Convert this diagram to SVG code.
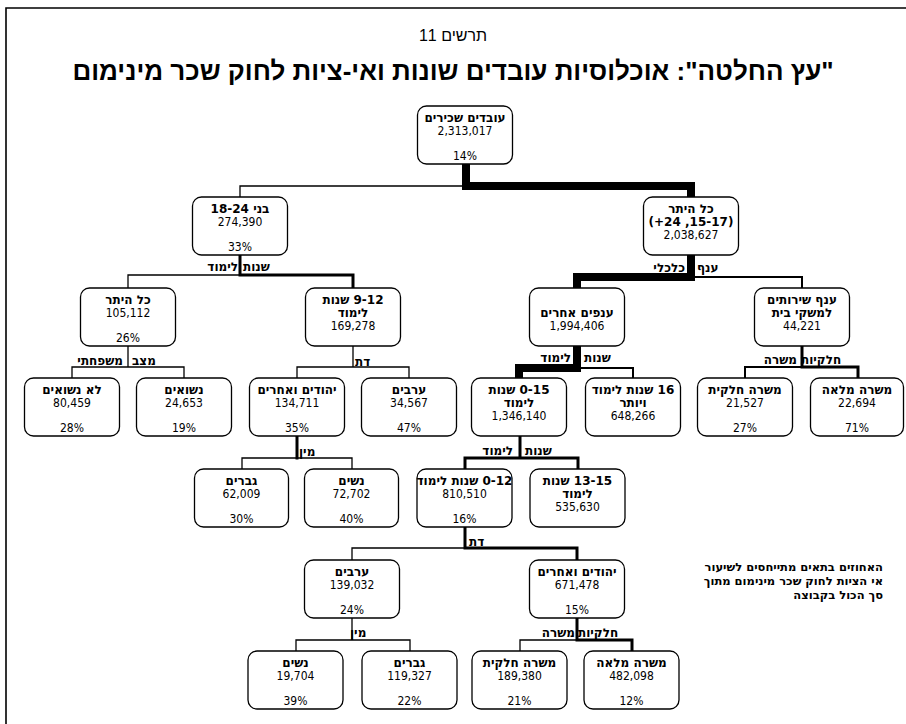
<svg xmlns="http://www.w3.org/2000/svg" width="906" height="724" viewBox="0 0 906 724">
<style>
.box{fill:#fff;stroke:#000;stroke-width:1.3}
text{font-family:"DejaVu Sans Condensed","DejaVu Sans",sans-serif;font-size:12px;fill:#000}
.t{font-family:"DejaVu Sans",sans-serif;font-weight:bold;direction:rtl}
.c{text-anchor:middle}
.lb{font-family:"DejaVu Sans",sans-serif;font-weight:bold;font-size:12px;direction:rtl}
.ln{fill:none;stroke:#000;stroke-linejoin:miter;stroke-linecap:square}
.w1{stroke-width:1.3}.w2{stroke-width:2}.w3{stroke-width:3}.w8{stroke-width:8}
.note{font-family:"DejaVu Sans",sans-serif;font-weight:bold;font-size:11.5px;direction:rtl}
</style>
<path d="M6,724 V8 H906" fill="none" stroke="#000" stroke-width="1.6"/>
<text x="453" y="41" class="c" style="font-family:'Liberation Sans',Arial,sans-serif;font-size:16px;direction:rtl">תרשים 11</text>
<text x="453" y="80" class="c" style="font-family:'Liberation Sans',Arial,sans-serif;font-size:26px;font-weight:bold;direction:rtl">"עץ החלטה": אוכלוסיות עובדים שונות ואי-ציות לחוק שכר מינימום</text>

<g id="connectors">
<path class="ln w1" d="M466,186 H240 V197"/>
<path class="ln w8" d="M466,164 V186 H691 V197" stroke-linecap="butt"/>
<path class="ln w1" d="M240,255 V275 H128 V288"/>
<path class="ln w3" d="M240,255 V275 H353 V288"/>
<path class="ln w2" d="M691,277 H802 V288"/>
<path class="ln w8" d="M691,255 V277 H577 V288" stroke-linecap="butt"/>
<path class="ln w1" d="M128,346 V367 H72 V378 M128,367 H184 V378"/>
<path class="ln w1" d="M353,346 V367 H297 V378 M353,367 H409 V378"/>
<path class="ln w2" d="M577,368 H633 V378"/>
<path class="ln w8" d="M577,346 V368 H519 V378" stroke-linecap="butt"/>
<path class="ln w2" d="M802,367 H745 V378"/>
<path class="ln w3" d="M802,346 V367 H858 V378"/>
<path class="ln w1" d="M297,458 H242 V469 M297,458 H352 V469"/>
<path class="ln w3" d="M297,436 V458"/>
<path class="ln w3" d="M520,436 V458 H465 V469 M520,458 H578 V469"/>
<path class="ln w1" d="M465,548 H352 V560"/>
<path class="ln w3" d="M465,528 V548 H577 V560"/>
<path class="ln w1" d="M352,618 V640 H296 V651 M352,640 H410 V651"/>
<path class="ln w1" d="M577,640 H520 V651"/>
<path class="ln w3" d="M577,618 V640 H632 V651"/>
<text x="238" y="271" class="lb" text-anchor="end" style="direction:ltr">לימוד</text>
<text x="243" y="271" class="lb" text-anchor="start" style="direction:ltr">שנות</text>
<text x="685" y="272" class="lb" text-anchor="end" style="direction:ltr">כלכלי</text>
<text x="697" y="272" class="lb" text-anchor="start" style="direction:ltr">ענף</text>
<text x="123" y="365" class="lb" text-anchor="end" style="direction:ltr">משפחתי</text>
<text x="132" y="365" class="lb" text-anchor="start" style="direction:ltr">מצב</text>
<text x="355" y="366" class="lb" text-anchor="start" style="direction:ltr">דת</text>
<text x="571" y="362" class="lb" text-anchor="end" style="direction:ltr">לימוד</text>
<text x="584" y="362" class="lb" text-anchor="start" style="direction:ltr">שנות</text>
<text x="797" y="364" class="lb" text-anchor="end" style="direction:ltr">משרה</text>
<text x="801" y="364" class="lb" text-anchor="start" style="direction:ltr">חלקיות</text>
<text x="299" y="456" class="lb" text-anchor="start" style="direction:ltr">מין</text>
<text x="513" y="455" class="lb" text-anchor="end" style="direction:ltr">לימוד</text>
<text x="525" y="455" class="lb" text-anchor="start" style="direction:ltr">שנות</text>
<text x="469" y="546" class="lb" text-anchor="start" style="direction:ltr">דת</text>
<text x="350" y="637" class="lb" text-anchor="start" style="direction:ltr">מין</text>
<text x="575" y="637" class="lb" text-anchor="end" style="direction:ltr">משרה</text>
<text x="578" y="637" class="lb" text-anchor="start" style="direction:ltr">חלקיות</text>
</g>

<g id="n_root"><rect class="box" x="417.5" y="106" width="95" height="58" rx="9"/>
<text x="465" y="122" class="t c">עובדים שכירים</text><text x="465" y="135" class="c">2,313,017</text><text x="465" y="160" class="c">14%</text></g>

<g id="n_18_24"><rect class="box" x="192.5" y="197" width="95" height="58" rx="9"/>
<text x="240" y="213" class="t c">בני 18-24</text><text x="240" y="226" class="c">274,390</text><text x="240" y="251" class="c">33%</text></g>

<g id="n_rest"><rect class="box" x="643.5" y="197" width="95" height="58" rx="9"/>
<text x="691" y="213" class="t c">כל היתר</text><text x="691" y="226" class="t c">(15-17, 24+)</text><text x="691" y="239" class="c">2,038,627</text></g>

<g id="n_other"><rect class="box" x="80.5" y="288" width="95" height="58" rx="9"/>
<text x="128" y="304" class="t c">כל היתר</text><text x="128" y="317" class="c">105,112</text><text x="128" y="342" class="c">26%</text></g>

<g id="n_9_12"><rect class="box" x="305.5" y="288" width="95" height="58" rx="9"/>
<text x="353" y="304" class="t c">9-12 שנות</text><text x="353" y="317" class="t c">לימוד</text><text x="353" y="330" class="c">169,278</text></g>

<g id="n_branches"><rect class="box" x="529.5" y="288" width="95" height="58" rx="9"/>
<text x="577" y="317" class="t c">ענפים אחרים</text><text x="577" y="330" class="c">1,994,406</text></g>

<g id="n_household"><rect class="box" x="754.5" y="288" width="95" height="58" rx="9"/>
<text x="802" y="304" class="t c">ענף שירותים</text><text x="802" y="317" class="t c">למשקי בית</text><text x="802" y="330" class="c">44,221</text></g>

<g id="n_unmarried"><rect class="box" x="24.5" y="378" width="95" height="58" rx="9"/>
<text x="72" y="394" class="t c">לא נשואים</text><text x="72" y="407" class="c">80,459</text><text x="72" y="432" class="c">28%</text></g>

<g id="n_married"><rect class="box" x="136.5" y="378" width="95" height="58" rx="9"/>
<text x="184" y="394" class="t c">נשואים</text><text x="184" y="407" class="c">24,653</text><text x="184" y="432" class="c">19%</text></g>

<g id="n_jews1"><rect class="box" x="249.5" y="378" width="95" height="58" rx="9"/>
<text x="297" y="394" class="t c">יהודים ואחרים</text><text x="297" y="407" class="c">134,711</text><text x="297" y="432" class="c">35%</text></g>

<g id="n_arabs1"><rect class="box" x="361.5" y="378" width="95" height="58" rx="9"/>
<text x="409" y="394" class="t c">ערבים</text><text x="409" y="407" class="c">34,567</text><text x="409" y="432" class="c">47%</text></g>

<g id="n_0_15"><rect class="box" x="471.5" y="378" width="95" height="58" rx="9"/>
<text x="519" y="394" class="t c">0-15 שנות</text><text x="519" y="407" class="t c">לימוד</text><text x="519" y="420" class="c">1,346,140</text></g>

<g id="n_16plus"><rect class="box" x="585.5" y="378" width="95" height="58" rx="9"/>
<text x="633" y="394" class="t c">16 שנות לימוד</text><text x="633" y="407" class="t c">ויותר</text><text x="633" y="420" class="c">648,266</text></g>

<g id="n_part1"><rect class="box" x="697.5" y="378" width="95" height="58" rx="9"/>
<text x="745" y="394" class="t c">משרה חלקית</text><text x="745" y="407" class="c">21,527</text><text x="745" y="432" class="c">27%</text></g>

<g id="n_full1"><rect class="box" x="810.5" y="378" width="93" height="58" rx="9"/>
<text x="857" y="394" class="t c">משרה מלאה</text><text x="857" y="407" class="c">22,694</text><text x="857" y="432" class="c">71%</text></g>

<g id="n_men1"><rect class="box" x="194.5" y="469" width="94" height="58" rx="9"/>
<text x="241.5" y="485" class="t c">גברים</text><text x="241.5" y="498" class="c">62,009</text><text x="241.5" y="523" class="c">30%</text></g>

<g id="n_women1"><rect class="box" x="304.5" y="469" width="94" height="58" rx="9"/>
<text x="351.5" y="485" class="t c">נשים</text><text x="351.5" y="498" class="c">72,702</text><text x="351.5" y="523" class="c">40%</text></g>

<g id="n_0_12"><rect class="box" x="417" y="469" width="95" height="58" rx="9"/>
<text x="464.5" y="485" class="t c">0-12 שנות לימוד</text><text x="464.5" y="498" class="c">810,510</text><text x="464.5" y="523" class="c">16%</text></g>

<g id="n_13_15"><rect class="box" x="530" y="469" width="95" height="58" rx="9"/>
<text x="577.5" y="485" class="t c">13-15 שנות</text><text x="577.5" y="498" class="t c">לימוד</text><text x="577.5" y="511" class="c">535,630</text></g>

<g id="n_arabs2"><rect class="box" x="304.5" y="560" width="95" height="58" rx="9"/>
<text x="352" y="576" class="t c">ערבים</text><text x="352" y="589" class="c">139,032</text><text x="352" y="614" class="c">24%</text></g>

<g id="n_jews2"><rect class="box" x="529.5" y="560" width="95" height="58" rx="9"/>
<text x="577" y="576" class="t c">יהודים ואחרים</text><text x="577" y="589" class="c">671,478</text><text x="577" y="614" class="c">15%</text></g>

<g id="n_women2"><rect class="box" x="248" y="651" width="95" height="58" rx="9"/>
<text x="295.5" y="667" class="t c">נשים</text><text x="295.5" y="680" class="c">19,704</text><text x="295.5" y="705" class="c">39%</text></g>

<g id="n_men2"><rect class="box" x="362" y="651" width="95" height="58" rx="9"/>
<text x="409.5" y="667" class="t c">גברים</text><text x="409.5" y="680" class="c">119,327</text><text x="409.5" y="705" class="c">22%</text></g>

<g id="n_part2"><rect class="box" x="472" y="651" width="95" height="58" rx="9"/>
<text x="519.5" y="667" class="t c">משרה חלקית</text><text x="519.5" y="680" class="c">189,380</text><text x="519.5" y="705" class="c">21%</text></g>

<g id="n_full2"><rect class="box" x="584" y="651" width="95" height="58" rx="9"/>
<text x="631.5" y="667" class="t c">משרה מלאה</text><text x="631.5" y="680" class="c">482,098</text><text x="631.5" y="705" class="c">12%</text></g>

<g id="note">
<text x="883" y="571" class="note" text-anchor="start">האחוזים בתאים מתייחסים לשיעור</text>
<text x="883" y="585" class="note" text-anchor="start">אי הציות לחוק שכר מינימום מתוך</text>
<text x="883" y="599" class="note" text-anchor="start">סך הכול בקבוצה</text>
</g>
</svg>
